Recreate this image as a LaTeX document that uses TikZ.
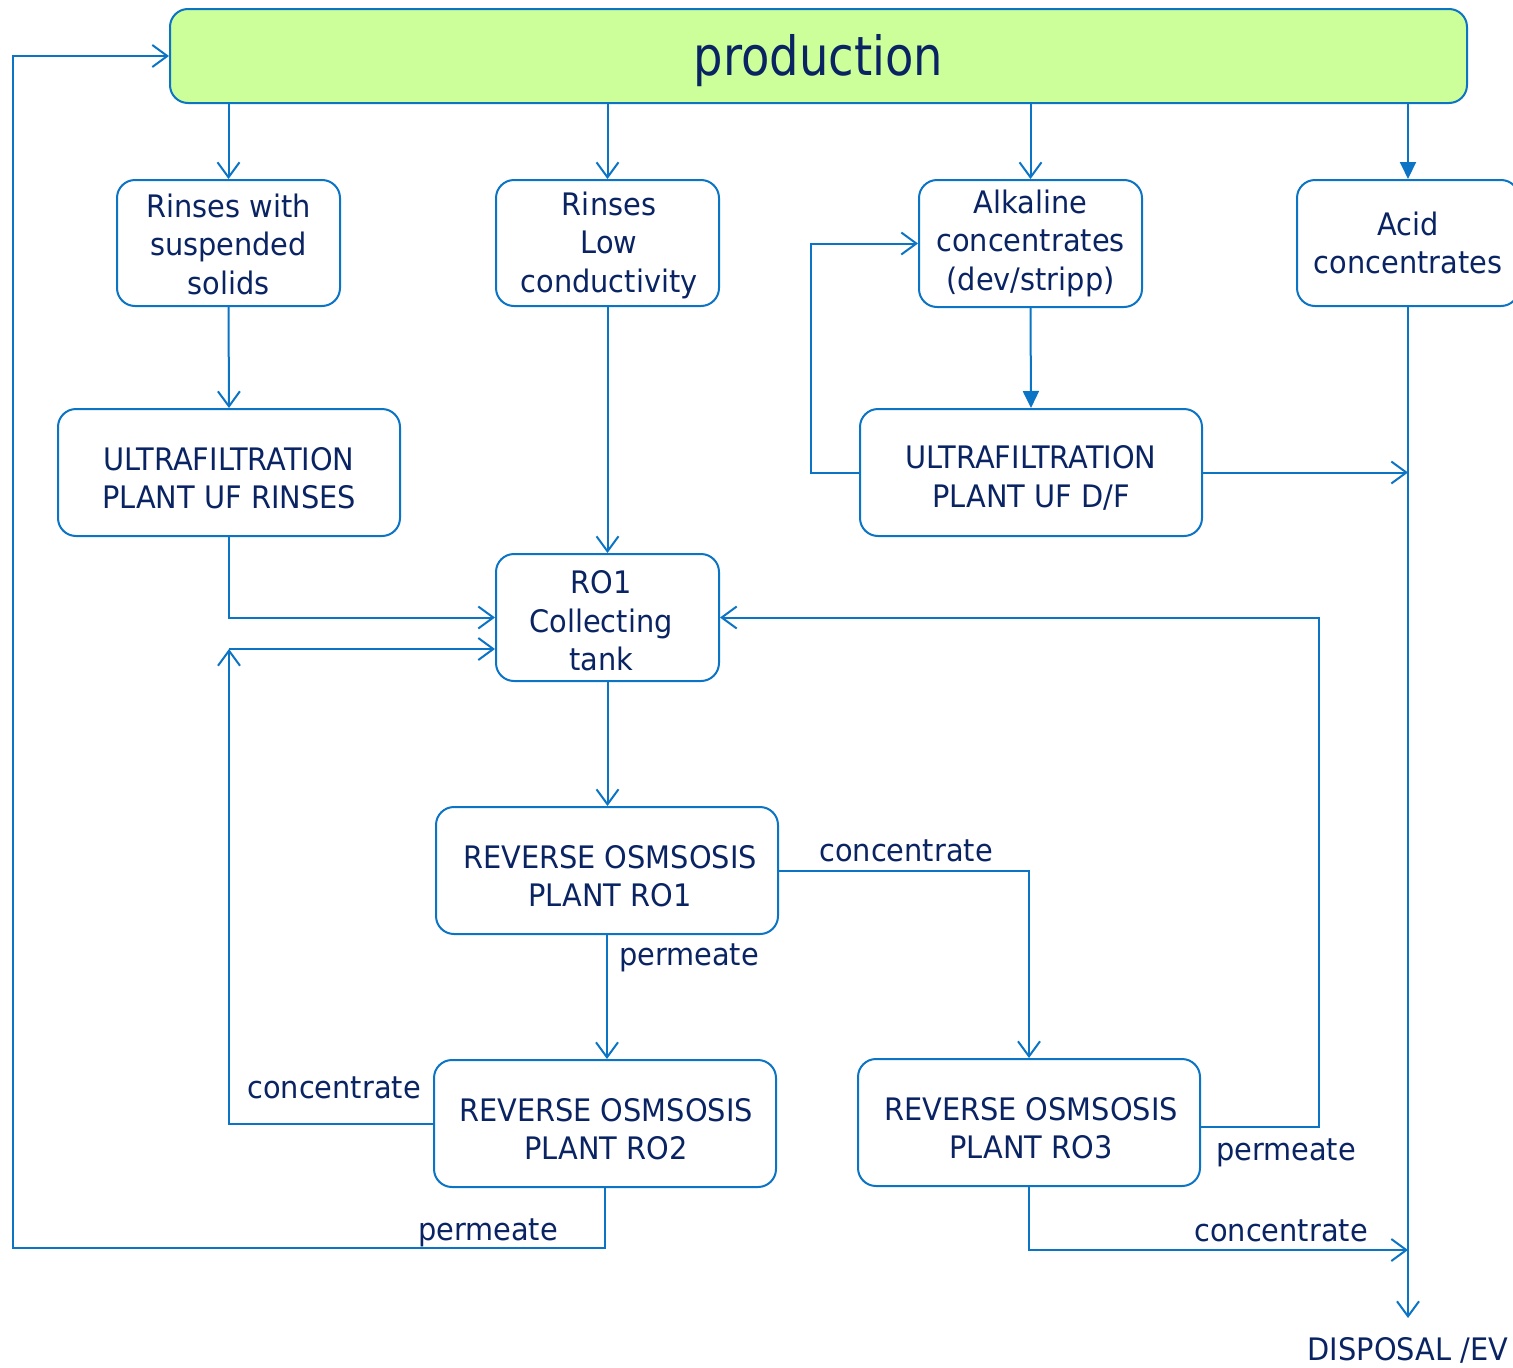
\documentclass[tikz,border=0pt]{standalone}
\usepackage{fontspec}
\setmainfont{DejaVu Sans}[FakeStretch=0.93]
\newfontfamily\titlefont{DejaVu Sans}[FakeStretch=0.86]
\usetikzlibrary{arrows.meta}
\definecolor{ln}{HTML}{0B74C4}
\definecolor{tx}{HTML}{0A2463}
\definecolor{gr}{HTML}{CCFF99}
\begin{document}
\begin{tikzpicture}[x=1pt,y=-1pt,
 box/.style={draw=ln, line width=2pt, rounded corners=18pt, inner sep=0pt},
 txt/.style={text=tx, align=center, font=\fontsize{31}{38.5}\selectfont, inner sep=0pt},
 conn/.style={draw=ln, line width=2pt},
 oa/.style={conn,-{Straight Barb[length=15pt,width=22pt,line width=2pt]}},
 fa/.style={conn,-{Triangle[length=17pt,width=16pt]}},
 lab/.style={text=tx, font=\fontsize{31}{38.5}\selectfont, inner sep=0pt}]
\useasboundingbox (0,0) rectangle (1513,1368);
% boxes
\node[box, fill=gr, minimum width=1297pt, minimum height=94pt] (prod) at (818.5,56) {};
\node[box, minimum width=223pt, minimum height=126pt] (rw) at (228.5,243) {};
\node[box, minimum width=223pt, minimum height=126pt] (rl) at (607.5,243) {};
\node[box, minimum width=223pt, minimum height=127pt] (al) at (1030.5,243.5) {};
\node[box, minimum width=222pt, minimum height=126pt] (ac) at (1408,243) {};
\node[box, minimum width=342pt, minimum height=127pt] (ufr) at (229,472.5) {};
\node[box, minimum width=342pt, minimum height=127pt] (ufd) at (1031,472.5) {};
\node[box, minimum width=223pt, minimum height=127pt] (tank) at (607.5,617.5) {};
\node[box, minimum width=342pt, minimum height=127pt] (ro1) at (607,870.5) {};
\node[box, minimum width=342pt, minimum height=127pt] (ro2) at (605,1123.5) {};
\node[box, minimum width=342pt, minimum height=127pt] (ro3) at (1029,1122.5) {};
% box texts
\node[txt, font=\titlefont\fontsize{54}{60}\selectfont] (tprod) at (818.5,61) {production};
\node[txt] (trw) at (228.5,244) {Rinses with\\suspended\\solids};
\node[txt] (trl) at (609,245) {Rinses\\Low\\conductivity};
\node[txt] (tal) at (1030.5,243) {Alkaline\\concentrates\\(dev/stripp)};
\node[txt] (tac) at (1408,243) {Acid\\concentrates};
\node[txt] (tufr) at (229,478) {ULTRAFILTRATION\\PLANT UF RINSES};
\node[txt] (tufd) at (1031,478) {ULTRAFILTRATION\\PLANT UF D/F};
\node[txt] (ttank) at (601,621) {RO1\\Collecting\\tank};
\node[txt] (tro1) at (610,876) {REVERSE OSMSOSIS\\PLANT RO1};
\node[txt] (tro2) at (606,1129) {REVERSE OSMSOSIS\\PLANT RO2};
\node[txt] (tro3) at (1031,1128) {REVERSE OSMSOSIS\\PLANT RO3};
\node[lab] (disp) at (1408,1350) {DISPOSAL /EV};
\coordinate (dspin) at (1408,1318);
\coordinate (c2) at (229,649);
\coordinate (jd) at (1408,1250);
\coordinate (lb) at (13,1248);
% from production
\draw[oa] (rw.north |- prod.south) -- (rw.north);
\draw[oa] (rl.north |- prod.south) -- (rl.north);
\draw[oa] (al.north |- prod.south) -- (al.north);
\draw[fa] (ac.north |- prod.south) -- (ac.north);
% columns
\draw[oa] (rw.south) -- (ufr.north);
\draw[oa] (rl.south) -- (tank.north);
\draw[fa] (al.south) -- (ufd.north);
\draw[oa] (ufd.west) -- ++(-48,0) |- (al.west);
\draw[oa] (ufd.east) -- (ufd.east -| ac.south);
\draw[oa] (ac.south) -- (dspin);
\draw[oa] (ufr.south) |- (tank.west);
\draw[oa] (ro2.west) -| (c2);
\draw[oa] (c2) -- (c2 -| tank.west);
\draw[oa] (tank.south) -- (tank.south |- ro1.north);
\draw[oa] (ro1.east) -| (ro3.north);
\draw[oa] (ro1.south) -- (ro1.south |- ro2.north);
\draw[oa] ([yshift=-4.5pt]ro3.east) -- ++(118,0) |- (tank.east);
\draw[oa] (ro3.south) |- (jd);
\draw[oa] (ro2.south) |- (lb) |- (prod.west);
% labels
\node[lab] (l1) at (906,851) {concentrate};
\node[lab] (l2) at (689,958) {permeate};
\node[lab] (l3) at (334,1088) {concentrate};
\node[lab] (l4) at (1286,1153) {permeate};
\node[lab] (l5) at (1281,1231) {concentrate};
\node[lab] (l6) at (488,1233) {permeate};
\end{tikzpicture}
\end{document}
